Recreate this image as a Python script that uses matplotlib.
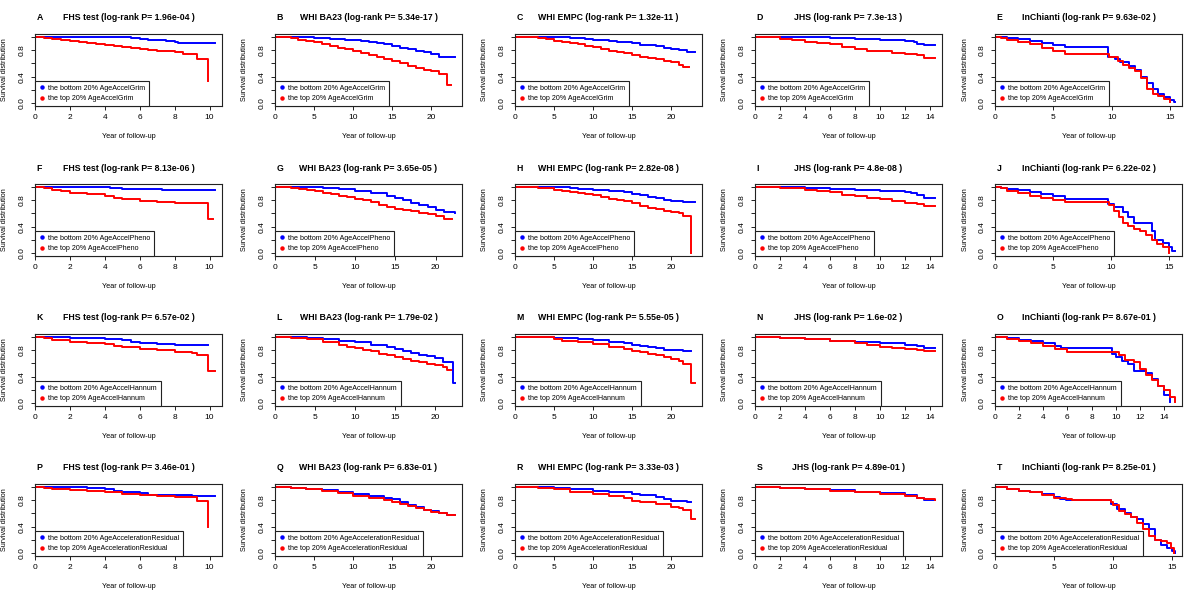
import matplotlib
matplotlib.use('Agg')
import matplotlib.pyplot as plt
from matplotlib.lines import Line2D

plt.rcParams['font.family'] = ['Liberation Sans', 'DejaVu Sans']

clocks = ['AgeAccelGrim', 'AgeAccelPheno', 'AgeAccelHannum', 'AgeAccelerationResidual']
cohorts = ['FHS test', 'WHI BA23', 'WHI EMPC', 'JHS', 'InChianti']
letters = list('ABCDEFGHIJKLMNOPQRST')
pvalues = ['1.96e-04', '5.34e-17', '1.32e-11', '7.3e-13', '9.63e-02',
           '8.13e-06', '3.65e-05', '2.82e-08', '4.8e-08', '6.22e-02',
           '6.57e-02', '1.79e-02', '5.55e-05', '1.6e-02', '8.67e-01',
           '3.46e-01', '6.83e-01', '3.33e-03', '4.89e-01', '8.25e-01']
tick_step = [2, 5, 5, 2, 5,
             2, 5, 5, 2, 5,
             2, 5, 5, 2, 2,
             2, 5, 5, 2, 5]

# (year, survival) knots; bottom 20% = blue, top 20% = red
# row 1: GrimAge
A_bottom = [(0, 1), (4.5, 0.99), (5.5, 0.98), (6, 0.97), (6.5, 0.955), (7, 0.945), (7.5, 0.935),
            (8, 0.925), (8.2, 0.905), (10.3, 0.905)]
A_top = [(0, 1), (0.5, 0.98), (1, 0.96), (1.5, 0.945), (2, 0.93), (2.5, 0.92), (3, 0.905), (3.5, 0.89),
         (4, 0.88), (4.5, 0.86), (5, 0.84), (5.5, 0.83), (6, 0.815), (6.5, 0.80), (7, 0.79), (7.5, 0.78),
         (8, 0.77), (8.5, 0.74), (9.3, 0.67), (9.9, 0.33)]
B_bottom = [(0, 1), (3, 0.995), (5, 0.985), (7, 0.97), (9, 0.955), (10, 0.945), (11, 0.93), (12, 0.92),
            (13, 0.905), (14, 0.885), (15, 0.86), (16, 0.835), (17, 0.815), (18, 0.79), (19, 0.765),
            (20, 0.74), (21, 0.70), (23, 0.70)]
B_top = [(0, 1), (1, 0.99), (2, 0.975), (3, 0.955), (4, 0.935), (5, 0.915), (6, 0.89), (7, 0.86),
         (8, 0.83), (9, 0.81), (10, 0.79), (11, 0.76), (12, 0.73), (13, 0.69), (14, 0.66), (15, 0.63),
         (16, 0.60), (17, 0.565), (18, 0.53), (19, 0.505), (20, 0.48), (21, 0.44), (22, 0.28), (22.5, 0.28)]
C_bottom = [(0, 1), (4, 0.995), (5, 0.99), (7, 0.975), (9, 0.965), (10, 0.955), (11, 0.945), (12, 0.93),
            (13, 0.92), (14, 0.915), (15, 0.905), (16, 0.88), (17, 0.87), (18, 0.855), (19, 0.83),
            (20, 0.815), (21, 0.80), (22, 0.77), (23, 0.77)]
C_top = [(0, 1), (2, 0.99), (3, 0.975), (4, 0.96), (5, 0.94), (6, 0.92), (7, 0.90), (8, 0.885),
         (9, 0.865), (10, 0.845), (11, 0.82), (12, 0.79), (13, 0.77), (14, 0.75), (15, 0.725), (16, 0.70),
         (17, 0.68), (18, 0.66), (19, 0.64), (20, 0.62), (21, 0.58), (21.5, 0.55), (22.3, 0.55)]
D_bottom = [(0, 1), (2, 0.995), (4, 0.99), (6, 0.975), (8, 0.965), (10, 0.95), (12, 0.94), (12.7, 0.92),
            (13, 0.895), (13.5, 0.88), (14.4, 0.88)]
D_top = [(0, 1), (1, 0.99), (2, 0.97), (3, 0.945), (4, 0.925), (5, 0.905), (6, 0.885), (7, 0.845),
         (8, 0.81), (9, 0.79), (10, 0.78), (11, 0.76), (12, 0.745), (13, 0.72), (13.5, 0.685), (14.4, 0.68)]
E_bottom = [(0, 1), (1, 0.98), (2, 0.96), (3, 0.93), (4, 0.91), (5, 0.88), (6, 0.84), (9.7, 0.70),
            (10.3, 0.66), (10.7, 0.62), (11.5, 0.56), (12, 0.505), (12.5, 0.40), (13, 0.30), (13.5, 0.22),
            (14, 0.14), (14.5, 0.09), (15, 0.05), (15.3, 0.02), (15.4, 0.02)]
E_top = [(0, 1), (0.5, 0.98), (1, 0.95), (2, 0.92), (3, 0.89), (4, 0.83), (5, 0.79), (6, 0.74),
         (9.8, 0.69), (10.5, 0.64), (11, 0.58), (11.5, 0.53), (12, 0.49), (12.5, 0.375), (13, 0.22),
         (13.5, 0.14), (14, 0.11), (14.5, 0.06), (15, 0.02)]

# row 2: PhenoAge
F_bottom = [(0, 1), (4.3, 0.985), (5, 0.965), (7.3, 0.95), (10.3, 0.95)]
F_top = [(0, 1), (0.5, 0.975), (1, 0.945), (1.5, 0.93), (2, 0.91), (3, 0.885), (4, 0.865), (4.5, 0.83),
         (5, 0.815), (6, 0.79), (7, 0.77), (8, 0.755), (9.9, 0.51), (10.2, 0.51)]
G_bottom = [(0, 1), (2, 0.995), (4, 0.99), (6, 0.975), (8, 0.96), (10, 0.935), (12, 0.90), (14, 0.86),
            (15, 0.835), (16, 0.795), (17, 0.755), (18, 0.72), (19, 0.69), (20, 0.655), (21, 0.615),
            (22.4, 0.61)]
G_top = [(0, 1), (1, 0.99), (2, 0.975), (3, 0.965), (4, 0.95), (5, 0.93), (6, 0.91), (7, 0.885),
         (8, 0.86), (9, 0.84), (10, 0.82), (11, 0.795), (12, 0.77), (13, 0.73), (14, 0.69), (15, 0.67),
         (16, 0.655), (17, 0.63), (18, 0.605), (19, 0.585), (20, 0.565), (21, 0.52), (22, 0.52)]
H_bottom = [(0, 1), (5, 0.99), (7, 0.98), (8, 0.97), (10, 0.95), (12, 0.93), (14, 0.915), (15, 0.895),
            (16, 0.87), (17, 0.845), (18, 0.83), (19, 0.80), (20, 0.79), (21, 0.785), (21.5, 0.775),
            (23, 0.775)]
H_top = [(0, 1), (2, 0.99), (3, 0.975), (5, 0.955), (6, 0.935), (7, 0.92), (8, 0.905), (9, 0.895),
         (10, 0.88), (11, 0.85), (12, 0.82), (13, 0.805), (14, 0.79), (15, 0.755), (16, 0.71),
         (17, 0.685), (18, 0.66), (19, 0.64), (20, 0.62), (21, 0.60), (21.5, 0.555), (22.5, 0.0)]
I_bottom = [(0, 1), (2, 0.99), (4, 0.975), (6, 0.965), (8, 0.95), (10, 0.935), (12, 0.915), (12.5, 0.90),
            (13, 0.87), (13.5, 0.835), (14.4, 0.835)]
I_top = [(0, 1), (2, 0.985), (3, 0.975), (4, 0.95), (5, 0.935), (6, 0.915), (7, 0.88), (8, 0.86),
         (9, 0.83), (10, 0.81), (11, 0.79), (12, 0.76), (13, 0.74), (13.5, 0.715), (14.4, 0.71)]
J_bottom = [(0, 1), (0.5, 0.985), (1, 0.965), (2, 0.95), (3, 0.92), (4, 0.89), (5, 0.86), (6, 0.82),
            (7, 0.81), (9.7, 0.74), (10.3, 0.69), (11, 0.615), (11.5, 0.54), (12, 0.45), (13.5, 0.33),
            (13.8, 0.205), (14.5, 0.15), (15, 0.10), (15.3, 0.03), (15.5, 0.03)]
J_top = [(0, 1), (0.5, 0.975), (1, 0.935), (2, 0.90), (3, 0.86), (4, 0.83), (5, 0.795), (6, 0.77),
         (9.8, 0.72), (10.3, 0.64), (10.7, 0.54), (11, 0.46), (11.5, 0.41), (12, 0.37), (12.5, 0.33),
         (13, 0.28), (13.5, 0.205), (14, 0.145), (14.5, 0.09), (15, 0.0)]

# row 3: Hannum
K_bottom = [(0, 1), (1, 0.99), (2, 0.98), (3, 0.975), (4, 0.96), (5, 0.945), (5.5, 0.925), (6, 0.91),
            (7, 0.89), (8, 0.87), (9.9, 0.87)]
K_top = [(0, 1), (0.5, 0.975), (1, 0.95), (2, 0.925), (3, 0.91), (4, 0.89), (4.5, 0.86), (5, 0.845),
         (6, 0.81), (7, 0.795), (8, 0.775), (9, 0.755), (9.3, 0.725), (9.9, 0.48), (10.3, 0.48)]
L_bottom = [(0, 1), (2, 0.995), (4, 0.985), (6, 0.96), (8, 0.94), (10, 0.915), (12, 0.88), (14, 0.84),
            (15, 0.81), (16, 0.78), (17, 0.755), (18, 0.73), (19, 0.705), (20, 0.68), (21, 0.625),
            (22.3, 0.30), (22.5, 0.30)]
L_top = [(0, 1), (2, 0.985), (4, 0.96), (6, 0.925), (8, 0.87), (9, 0.85), (10, 0.83), (11, 0.805),
         (12, 0.78), (13, 0.745), (14, 0.72), (15, 0.695), (16, 0.67), (17, 0.64), (18, 0.615),
         (19, 0.595), (20, 0.575), (21, 0.54), (21.5, 0.50), (22, 0.50)]
M_bottom = [(0, 1), (3, 0.995), (5, 0.985), (8, 0.97), (10, 0.945), (12, 0.915), (14, 0.90), (15, 0.88),
            (16, 0.86), (17, 0.84), (18, 0.825), (19, 0.80), (21.5, 0.785), (22.5, 0.785)]
M_top = [(0, 1), (3, 0.99), (5, 0.96), (6, 0.935), (8, 0.915), (10, 0.89), (12, 0.85), (14, 0.815),
         (15, 0.785), (16, 0.77), (17, 0.745), (18, 0.72), (19, 0.695), (20, 0.67), (21, 0.64),
         (21.5, 0.59), (22.5, 0.30), (23, 0.30)]
N_bottom = [(0, 1), (2, 0.985), (4, 0.96), (6, 0.94), (8, 0.925), (10, 0.91), (12, 0.88), (13, 0.86),
            (13.5, 0.83), (14.4, 0.83)]
N_top = [(0, 1), (2, 0.985), (4, 0.965), (6, 0.94), (8, 0.91), (9, 0.875), (10, 0.845), (11, 0.83),
         (12, 0.82), (13, 0.80), (13.5, 0.78), (14.4, 0.78)]
O_bottom = [(0, 1), (1, 0.975), (2, 0.95), (3, 0.93), (4, 0.90), (5, 0.86), (5.5, 0.835), (9.7, 0.745),
            (10, 0.69), (10.5, 0.64), (11, 0.59), (11.5, 0.49), (12.5, 0.46), (13, 0.36), (13.5, 0.256),
            (14, 0.128), (14.5, 0.025)]
O_top = [(0, 1), (1, 0.96), (2, 0.935), (3, 0.91), (4, 0.86), (5, 0.82), (6, 0.775), (10.3, 0.72),
         (10.8, 0.655), (11.5, 0.615), (12, 0.51), (12.5, 0.42), (13, 0.35), (13.5, 0.256), (14, 0.205),
         (14.5, 0.09), (14.9, 0.025)]

# row 4: AgeAccelerationResidual (Horvath)
P_bottom = [(0, 1), (1, 0.99), (3, 0.985), (4, 0.965), (4.5, 0.94), (5, 0.925), (6, 0.90), (6.5, 0.88),
            (8, 0.868), (9, 0.86), (10.3, 0.855)]
P_top = [(0, 1), (0.5, 0.975), (1, 0.96), (2, 0.95), (3, 0.935), (4, 0.915), (5, 0.89), (6, 0.87),
         (7, 0.858), (8, 0.847), (9.3, 0.78), (9.9, 0.40)]
Q_bottom = [(0, 1), (2, 0.985), (4, 0.965), (6, 0.95), (8, 0.925), (10, 0.89), (12, 0.86), (14, 0.83),
            (15, 0.81), (16, 0.77), (17, 0.725), (18, 0.69), (19, 0.655), (20, 0.63), (21, 0.61),
            (22, 0.575), (23, 0.575)]
Q_top = [(0, 1), (2, 0.985), (4, 0.96), (6, 0.935), (8, 0.90), (10, 0.86), (12, 0.83), (14, 0.795),
         (15, 0.77), (16, 0.745), (17, 0.71), (18, 0.68), (19, 0.655), (20, 0.625), (21, 0.60),
         (22, 0.57), (23, 0.57)]
R_bottom = [(0, 1), (3, 0.99), (5, 0.985), (7, 0.965), (10, 0.94), (12, 0.92), (15, 0.89), (16, 0.87),
            (18, 0.84), (19, 0.81), (20, 0.79), (21.5, 0.785), (22, 0.765), (22.5, 0.765)]
R_top = [(0, 1), (3, 0.975), (5, 0.96), (7, 0.92), (10, 0.89), (12, 0.855), (14, 0.83), (15, 0.79),
         (16, 0.775), (18, 0.74), (20, 0.70), (21, 0.68), (21.5, 0.65), (22.5, 0.515), (23, 0.515)]
S_bottom = [(0, 1), (2, 0.985), (4, 0.965), (6, 0.945), (8, 0.925), (10, 0.90), (12, 0.88), (12.8, 0.87),
            (13, 0.83), (13.5, 0.805), (14.4, 0.80)]
S_top = [(0, 1), (2, 0.98), (4, 0.96), (6, 0.935), (8, 0.915), (10, 0.885), (12, 0.86), (13, 0.83),
         (13.5, 0.81), (14.4, 0.80)]
T_bottom = [(0, 1), (1, 0.965), (2, 0.94), (3, 0.925), (4, 0.89), (5, 0.845), (5.5, 0.82), (6, 0.805),
            (9.8, 0.745), (10.3, 0.665), (11, 0.605), (11.5, 0.54), (12, 0.51), (12.5, 0.435), (13, 0.36),
            (13.5, 0.205), (14, 0.13), (14.5, 0.08), (15, 0.035), (15.2, 0.01)]
T_top = [(0, 1), (1, 0.965), (2, 0.935), (3, 0.915), (4, 0.88), (5, 0.83), (6, 0.81), (6.5, 0.795),
         (9.8, 0.77), (10, 0.72), (10.5, 0.64), (11, 0.59), (11.5, 0.54), (12, 0.46), (12.5, 0.37),
         (13, 0.256), (13.5, 0.205), (14, 0.18), (14.5, 0.154), (14.9, 0.077), (15.1, 0.01)]

curves = {
    'A': (A_bottom, A_top), 'B': (B_bottom, B_top), 'C': (C_bottom, C_top), 'D': (D_bottom, D_top),
    'E': (E_bottom, E_top), 'F': (F_bottom, F_top), 'G': (G_bottom, G_top), 'H': (H_bottom, H_top),
    'I': (I_bottom, I_top), 'J': (J_bottom, J_top), 'K': (K_bottom, K_top), 'L': (L_bottom, L_top),
    'M': (M_bottom, M_top), 'N': (N_bottom, N_top), 'O': (O_bottom, O_top), 'P': (P_bottom, P_top),
    'Q': (Q_bottom, Q_top), 'R': (R_bottom, R_top), 'S': (S_bottom, S_top), 'T': (T_bottom, T_top),
}

W, H = 1200, 600
fig = plt.figure(figsize=(12, 6), dpi=100)
edge = '#222222'

for i, let in enumerate(letters):
    r, c = divmod(i, 5)
    # plot box in pixels: 187 x 72, grid pitch 240 x 150
    ax = fig.add_axes([(35 + 240 * c) / W, 1 - (106 + 150 * r) / H, 187 / W, 72 / H])
    bottom, top = curves[let]
    for pts, col in ((bottom, 'blue'), (top, 'red')):
        t = [p[0] for p in pts]
        s = [p[1] for p in pts]
        ax.step(t, s, where='post', color=col, lw=1.4)

    tmax = max(bottom[-1][0], top[-1][0])
    ax.set_xlim(0, tmax * 1.04)
    ax.set_ylim(-0.04, 1.04)
    step = tick_step[i]
    ax.set_xticks(range(0, int(tmax) + 1, step))
    ax.set_yticks([0, 0.2, 0.4, 0.6, 0.8, 1.0])
    ax.set_yticklabels(['0.0', '', '0.4', '', '0.8', ''])
    ax.tick_params(axis='both', direction='out', length=3, width=0.7, color=edge, labelsize=6)
    ax.tick_params(axis='x', pad=3)
    ax.tick_params(axis='y', pad=4, labelrotation=90)
    for lab in ax.get_yticklabels():
        lab.set_va('center')
    for sp in ax.spines.values():
        sp.set_color(edge)
        sp.set_linewidth(0.8)

    ax.set_xlabel('Year of follow-up', fontsize=5.2, va='center')
    ax.xaxis.set_label_coords(0.5, -30 / 72)
    ax.set_ylabel('Survival distribution', fontsize=5.2, va='center')
    ax.yaxis.set_label_coords(-30 / 187, 0.5)

    title = f'{cohorts[c]} (log-rank P= {pvalues[i]} )'
    ax.text(0.5, 1 + 16 / 72, title, transform=ax.transAxes, ha='center', va='center',
            fontsize=6.3, fontweight='bold')
    ax.text(0.01, 1 + 16 / 72, let, transform=ax.transAxes, ha='left', va='center',
            fontsize=6.3, fontweight='bold')

    handles = [Line2D([], [], ls='', marker='o', ms=2.2, color='blue'),
               Line2D([], [], ls='', marker='o', ms=2.2, color='red')]
    labels = [f'the bottom 20% {clocks[r]}', f'the top 20% {clocks[r]}']
    leg = ax.legend(handles, labels, loc='lower left', fontsize=5.1, frameon=True, fancybox=False,
                    borderaxespad=0, borderpad=0.5, handlelength=1.0, handletextpad=0.4,
                    labelspacing=0.5, framealpha=1)
    leg.get_frame().set_edgecolor(edge)
    leg.get_frame().set_linewidth(0.8)

fig.savefig('out.png', dpi=100, facecolor='white')
